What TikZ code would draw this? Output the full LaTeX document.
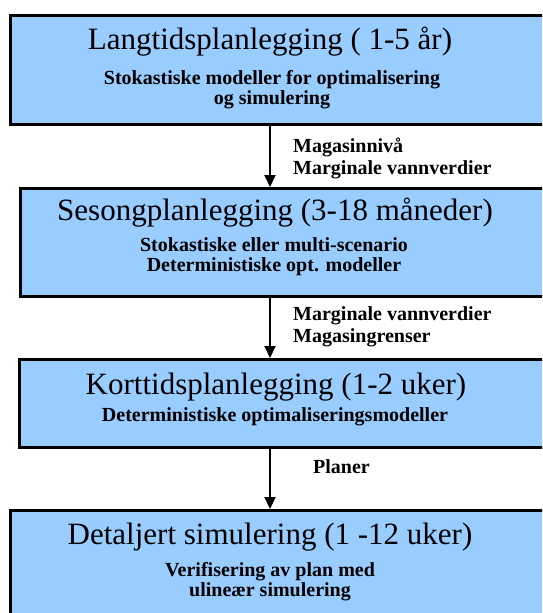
\documentclass[tikz,border=0pt]{standalone}
\usepackage{fontspec}
\setmainfont{Liberation Serif}
\usetikzlibrary{arrows.meta}
\definecolor{boxblue}{HTML}{99CCFF}

\begin{document}
\begin{tikzpicture}[x=1pt, y=-1pt,
    stage/.style={rectangle, draw=black, line width=3pt, fill=boxblue, anchor=north west, inner sep=0pt, minimum width=560pt},
    heading/.style={font=\fontsize{31}{36}\selectfont, inner sep=0pt},
    detail/.style={font=\bfseries\fontsize{20}{20}\selectfont, align=center, inner sep=0pt},
    flowlabel/.style={font=\bfseries\fontsize{20}{22}\selectfont, align=left, anchor=west, inner sep=0pt},
    flow/.style={line width=2pt, -{Triangle[width=11pt,length=12pt]}}]

    \useasboundingbox (0,0) rectangle (542,613);
    \clip (0,0) rectangle (542,613);

    % the four planning levels
    \node[stage, minimum height=109pt] (box1) at (9,14) {};
    \node[stage, minimum height=108pt] (box2) at (19,187) {};
    \node[stage, minimum height=88pt] (box3) at (18,358) {};
    \node[stage, minimum height=120pt] (box4) at (9,509) {};

    \node[heading] (t1) at (270,42) {Langtidsplanlegging ( 1-5 år)};
    \node[detail] (s1) at (272,90) {Stokastiske modeller for optimalisering\\og simulering};
    \node[heading] (t2) at (275,213) {Sesongplanlegging (3-18 måneder)};
    \node[detail] (s2) at (274,257) {Stokastiske eller multi-scenario\\Deterministiske opt. modeller};
    \node[heading] (t3) at (276,387) {Korttidsplanlegging (1-2 uker)};
    \node[detail] (s3) at (275,417) {Deterministiske optimaliseringsmodeller};
    \node[heading] (t4) at (270,537) {Detaljert simulering (1 -12 uker)};
    \node[detail] (s4) at (270,582) {Verifisering av plan med\\ulineær simulering};

    % what is handed down
    \coordinate (axis) at (270,0);
    \draw[flow] (box1.south -| axis) -- (box2.north -| axis);
    \draw[flow] (box2.south -| axis) -- (box3.north -| axis);
    \draw[flow] (box3.south -| axis) -- (box4.north -| axis);

    \node[flowlabel] (lab1) at (293,158) {Magasinnivå\\Marginale vannverdier};
    \node[flowlabel] (lab2) at (293,327) {Marginale vannverdier\\Magasingrenser};
    \node[flowlabel] (lab3) at (313,467) {Planer};
\end{tikzpicture}
\end{document}
